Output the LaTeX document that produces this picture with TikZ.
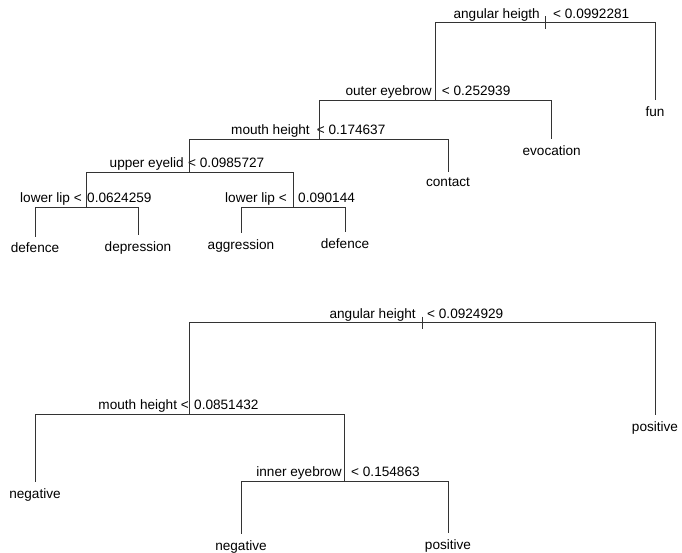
\documentclass[tikz,border=0pt]{standalone}
\usepackage{fontspec}
\setmainfont{Liberation Sans}
\begin{document}
\begin{tikzpicture}[x=1pt,y=-1pt,
	branch/.style={line width=0.9pt,color=black!80},
	condl/.style={anchor=base east,inner sep=0pt},
	condr/.style={anchor=base west,inner sep=0pt},
	leaf/.style={anchor=north,inner xsep=0pt,inner ysep=6pt},
	every node/.style={font=\fontsize{13.6}{16}\selectfont}]
		\useasboundingbox (0,0) rectangle (682,552);
		% First tree: split points
		\coordinate (ta) at (545.5,22.7);
		\coordinate (tb) at (435,100);
		\coordinate (tc) at (319,139);
		\coordinate (td) at (189,172);
		\coordinate (te) at (86,207);
		\coordinate (tf) at (293,207);
		% First tree: split labels
		\node[condl] (tal) at (540,18.5) {angular heigth};
		\node[condr] (tav) at (553,18.5) {< 0.0992281};
		\node[condl] (tbl) at (432,95.5) {outer eyebrow};
		\node[condr] (tbv) at (441.7,95.5) {< 0.252939};
		\node[condl] (tcl) at (310,134.5) {mouth height};
		\node[condr] (tcv) at (316.7,134.5) {< 0.174637};
		\node[condl] (tdl) at (184,167.5) {upper eyelid};
		\node[condr] (tdv) at (188,167.5) {< 0.0985727};
		\node[condl] (tel) at (82,202.5) {lower lip <};
		\node[condr] (tev) at (87,202.5) {0.0624259};
		\node[condl] (tfl) at (287,202.5) {lower lip <};
		\node[condr] (tfv) at (298,202.5) {0.090144};
		% First tree: leaves
		\node[leaf] (defa) at (35,236.7) {defence};
		\node[leaf] (depr) at (138,235) {depression};
		\node[leaf] (aggr) at (241,233) {aggression};
		\node[leaf] (defb) at (345,232) {defence};
		\node[leaf] (cont) at (448,171.7) {contact};
		\node[leaf] (evoc) at (551.7,139.3) {evocation};
		\node[leaf] (fun) at (655,100) {fun};
		% First tree: branches
		\draw[branch] ([yshift=6.5pt]ta) -- ([yshift=-6.5pt]ta);
		\draw[branch] (ta) -| (tb);
		\draw[branch] (ta) -| (fun.north);
		\draw[branch] (tb) -| (tc);
		\draw[branch] (tb) -| (evoc.north);
		\draw[branch] (tc) -| (td);
		\draw[branch] (tc) -| (cont.north);
		\draw[branch] (td) -| (te);
		\draw[branch] (td) -| (tf);
		\draw[branch] (te) -| (defa.north);
		\draw[branch] (te) -| (depr.north);
		\draw[branch] (tf) -| (aggr.north);
		\draw[branch] (tf) -| (defb.north);
		% Second tree: split points
		\coordinate (ba) at (422,322.7);
		\coordinate (bb) at (189.5,414);
		\coordinate (bc) at (344.5,481);
		% Second tree: split labels
		\node[condl] (bal) at (416,318) {angular height};
		\node[condr] (bav) at (427,318) {< 0.0924929};
		\node[condl] (bbl) at (189,409.5) {mouth height <};
		\node[condr] (bbv) at (194,409.5) {0.0851432};
		\node[condl] (bcl) at (342,476.5) {inner eyebrow};
		\node[condr] (bcv) at (351,476.5) {< 0.154863};
		% Second tree: leaves
		\node[leaf] (nega) at (35,482) {negative};
		\node[leaf] (negb) at (241,534) {negative};
		\node[leaf] (posa) at (448,533) {positive};
		\node[leaf] (posb) at (655,415) {positive};
		% Second tree: branches
		\draw[branch] ([yshift=6pt]ba) -- ([yshift=-6pt]ba);
		\draw[branch] (ba) -| (bb);
		\draw[branch] (ba) -| (posb.north);
		\draw[branch] (bb) -| (nega.north);
		\draw[branch] (bb) -| (bc);
		\draw[branch] (bc) -| (negb.north);
		\draw[branch] (bc) -| (posa.north);
\end{tikzpicture}
\end{document}
